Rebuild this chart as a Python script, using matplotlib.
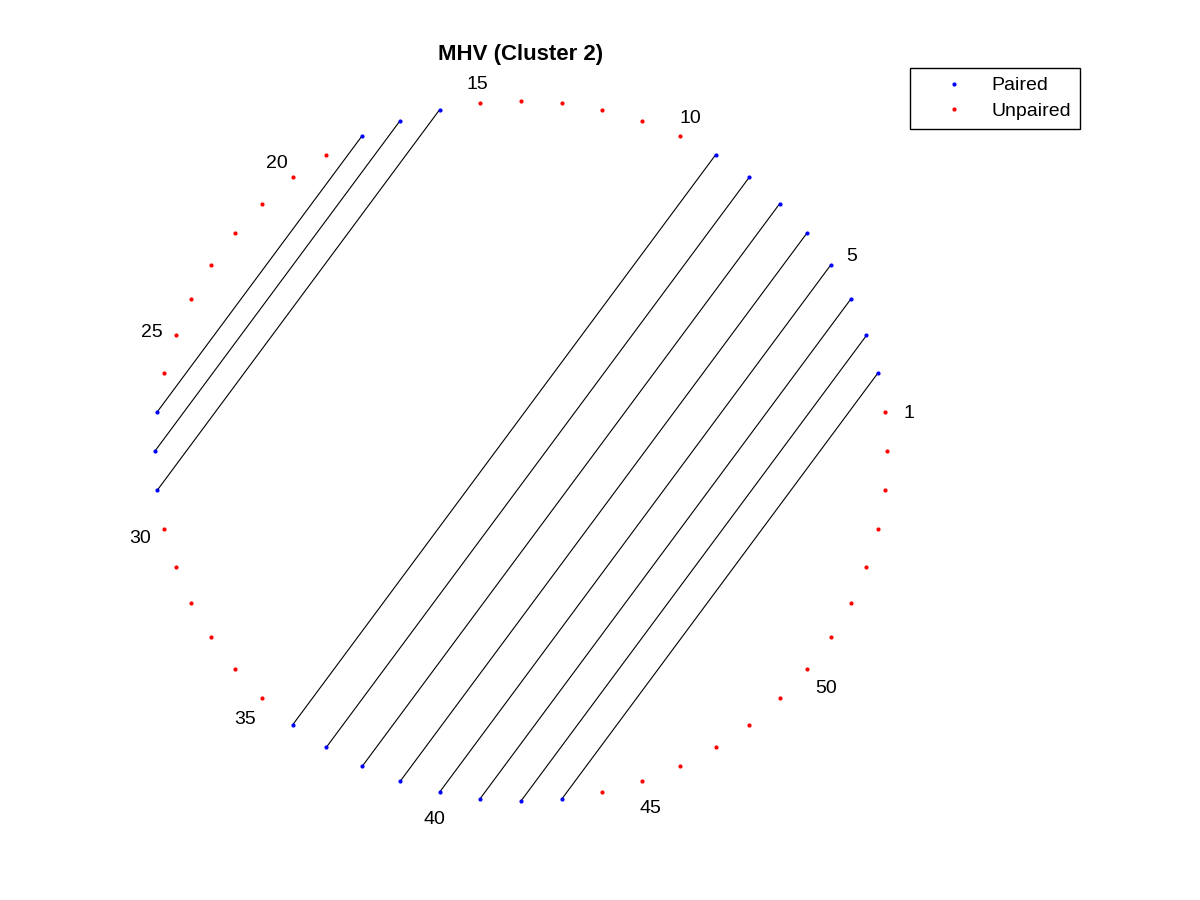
import numpy as np
import matplotlib.pyplot as plt
import matplotlib.transforms as mtransforms

plt.rcParams['font.family'] = ['Liberation Sans', 'DejaVu Sans']

# ---- data ----
n_nodes = 56
pairs = [(2, 43), (3, 42), (4, 41), (5, 40), (6, 39), (7, 38), (8, 37), (9, 36),
         (16, 29), (17, 28), (18, 27)]
label_nodes = [1, 5, 10, 15, 20, 25, 30, 35, 40, 45, 50]
title = 'MHV (Cluster 2)'

# ---- geometry ----
idx = np.arange(1, n_nodes + 1)
theta = 2 * np.pi * idx / n_nodes
xs, ys = np.cos(theta), np.sin(theta)
paired = sorted({a for p in pairs for a in p})
unpaired = [i for i in idx if i not in paired]

fig = plt.figure(figsize=(12, 9), dpi=100)
ax = fig.add_axes([0, 0, 1, 1])
ax.set_xlim(-521 / 366, (1200 - 521) / 366)
ax.set_ylim(-449 / 350, 451 / 350)
ax.axis('off')

for a, b in pairs:
    ax.plot([xs[a - 1], xs[b - 1]], [ys[a - 1], ys[b - 1]], color='black', lw=0.8, zorder=1)

pi = np.array(paired) - 1
ui = np.array(unpaired) - 1
ax.plot(xs[pi], ys[pi], '.', color='blue', ms=4, label='Paired', zorder=2)
ax.plot(xs[ui], ys[ui], '.', color='red', ms=4, label='Unpaired', zorder=2)

# node labels, nudged down a little like the original
r_lab = 1.068
lab_tr = ax.transData + mtransforms.ScaledTranslation(0, -2.5 / 100, fig.dpi_scale_trans)
for k in label_nodes:
    t = 2 * np.pi * k / n_nodes
    ax.text(r_lab * np.cos(t), r_lab * np.sin(t), str(k), fontsize=14,
            ha='center', va='center_baseline', transform=lab_tr)

fig.text(521 / 1200, 1 - 52 / 900, title, fontsize=16, fontweight='bold',
         ha='center', va='center_baseline')

leg = fig.legend(loc='upper right', bbox_to_anchor=(0.9, 0.9244), borderaxespad=0,
                 fancybox=False, edgecolor='black', fontsize=14, handlelength=3.6,
                 handletextpad=0.15, borderpad=0.45, labelspacing=0.4, framealpha=1)
leg.get_frame().set_linewidth(1.0)

fig.savefig('out.png', dpi=100)
